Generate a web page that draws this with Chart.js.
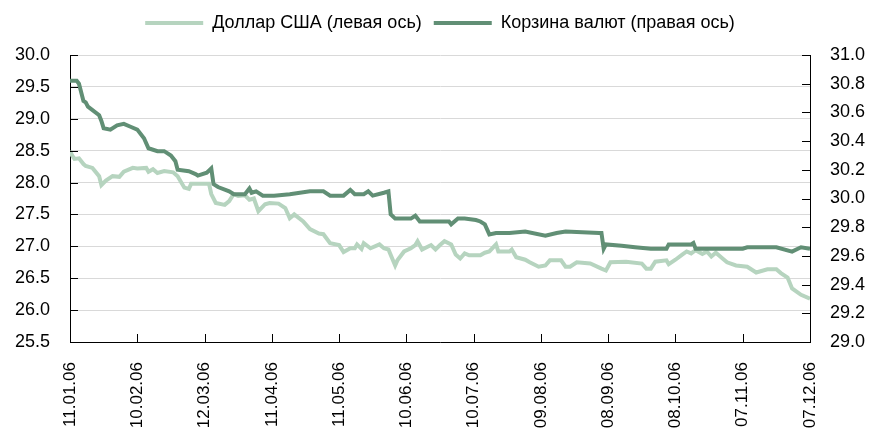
<!DOCTYPE html>
<html>
<head>
<meta charset="utf-8">
<script src="https://cdn.jsdelivr.net/npm/chart.js@4.4.1/dist/chart.umd.min.js"></script>
<style>
  html, body { margin: 0; padding: 0; background: #fff; }
  #wrap { width: 880px; height: 430px; }
</style>
</head>
<body>
<div id="wrap"><canvas id="lineChart"></canvas></div>
<script>
// x tick labels, every 30 days starting 11.01.06
const dateLabels = ['11.01.06', '10.02.06', '12.03.06', '11.04.06', '11.05.06', '10.06.06',
    '10.07.06', '09.08.06', '08.09.06', '08.10.06', '07.11.06', '07.12.06'];

// days since 11.01.06 and rate, USD (left axis)
const usdDays = [0, 1, 2, 4, 6, 7, 10, 13, 14, 16, 19, 22, 24, 28, 30, 34, 35, 37, 39, 42,
    46, 48, 51, 53, 54, 62, 63, 65, 69, 71, 73, 75, 78, 80, 82, 84, 87, 89, 93, 96,
    98, 100, 104, 107, 111, 113, 116, 120, 122, 125, 127, 128, 130, 131, 134, 138, 140, 142, 145, 146,
    149, 152, 154, 155, 157, 161, 163, 165, 167, 170, 172, 174, 176, 178, 183, 185, 187, 190, 191, 196,
    197, 199, 203, 205, 209, 212, 214, 219, 221, 223, 226, 232, 237, 239, 241, 248, 255, 257, 259, 261,
    266, 267, 270, 273, 275, 277, 279, 282, 284, 286, 288, 291, 293, 297, 302, 306, 311, 315, 317, 320,
    322, 326, 330];
const usdRates = [28.50, 28.42, 28.37, 28.38, 28.29, 28.26, 28.23, 28.10, 27.96, 28.03, 28.10, 28.09, 28.17, 28.23, 28.22, 28.23, 28.17, 28.21, 28.15, 28.18,
    28.16, 28.10, 27.92, 27.90, 27.98, 27.98, 27.82, 27.68, 27.65, 27.71, 27.82, 27.79, 27.80, 27.73, 27.75, 27.55, 27.66, 27.68, 27.67, 27.60,
    27.44, 27.50, 27.39, 27.27, 27.20, 27.19, 27.05, 27.02, 26.91, 26.97, 26.97, 27.03, 26.96, 27.05, 26.97, 27.03, 26.97, 26.95, 26.70, 26.78,
    26.92, 26.97, 27.02, 27.08, 26.95, 27.02, 26.95, 27.02, 27.08, 27.03, 26.87, 26.81, 26.89, 26.86, 26.86, 26.90, 26.92, 27.03, 26.92, 26.92,
    26.95, 26.83, 26.79, 26.75, 26.68, 26.70, 26.78, 26.78, 26.68, 26.68, 26.75, 26.73, 26.65, 26.62, 26.75, 26.76, 26.73, 26.65, 26.65, 26.76,
    26.78, 26.72, 26.79, 26.87, 26.92, 26.89, 26.94, 26.88, 26.92, 26.84, 26.90, 26.81, 26.75, 26.70, 26.68, 26.59, 26.64, 26.64, 26.58, 26.51,
    26.34, 26.24, 26.18];

// days since 11.01.06 and value, currency basket (right axis)
const basketDays = [0, 3, 4, 6, 7, 8, 13, 14, 15, 18, 21, 24, 27, 30, 33, 35, 39, 42, 45, 47,
    48, 53, 56, 57, 61, 63, 64, 66, 71, 73, 78, 80, 81, 83, 86, 91, 98, 107, 113, 116,
    122, 125, 127, 131, 133, 135, 140, 142, 143, 145, 152, 154, 156, 169, 170, 173, 176, 181, 183, 185,
    187, 190, 196, 203, 212, 217, 221, 236, 237, 238, 239, 246, 252, 259, 266, 267, 277, 278, 279, 300,
    302, 315, 322, 326, 330];
const basketRates = [30.82, 30.82, 30.80, 30.68, 30.67, 30.64, 30.58, 30.54, 30.49, 30.48, 30.51, 30.52, 30.50, 30.48, 30.42, 30.35, 30.33, 30.33, 30.30, 30.26,
    30.20, 30.19, 30.17, 30.16, 30.18, 30.21, 30.10, 30.08, 30.05, 30.03, 30.03, 30.07, 30.04, 30.05, 30.02, 30.02, 30.03, 30.05, 30.05, 30.02,
    30.02, 30.06, 30.03, 30.03, 30.05, 30.02, 30.04, 30.05, 29.89, 29.86, 29.86, 29.88, 29.84, 29.84, 29.82, 29.86, 29.86, 29.85, 29.84, 29.82,
    29.75, 29.76, 29.76, 29.77, 29.74, 29.76, 29.77, 29.76, 29.76, 29.65, 29.68, 29.67, 29.66, 29.65, 29.65, 29.68, 29.68, 29.69, 29.65, 29.65,
    29.66, 29.66, 29.63, 29.66, 29.65];

const toPoints = (days, vals) => days.map((d, i) => ({ x: d, y: vals[i] }));

Chart.defaults.font.family = "'Liberation Sans', Arial, sans-serif";
Chart.defaults.font.size = 18;
Chart.defaults.color = '#000';

// ticks in this chart point into the plot, so draw them by hand
const innerTicks = {
    id: 'innerTicks',
    afterDraw(chart) {
        const ctx = chart.ctx;
        const area = chart.chartArea;
        const len = 8;
        ctx.save();
        ctx.strokeStyle = '#000';
        ctx.lineWidth = 1;
        ctx.beginPath();
        chart.scales.x.ticks.forEach((t, i) => {
            const px = Math.round(chart.scales.x.getPixelForTick(i)) + 0.5;
            ctx.moveTo(px, area.bottom);
            ctx.lineTo(px, area.bottom - len);
        });
        chart.scales.y.ticks.forEach((t, i) => {
            const py = Math.round(chart.scales.y.getPixelForTick(i)) + 0.5;
            ctx.moveTo(area.left, py);
            ctx.lineTo(area.left + len, py);
        });
        chart.scales.y1.ticks.forEach((t, i) => {
            const py = Math.round(chart.scales.y1.getPixelForTick(i)) + 0.5;
            ctx.moveTo(area.right, py);
            ctx.lineTo(area.right - len, py);
        });
        ctx.stroke();
        ctx.restore();
    }
};

// extra room between the legend and the plot
const legendGap = {
    id: 'legendGap',
    beforeInit(chart) {
        const fit = chart.legend.fit;
        chart.legend.fit = function () {
            fit.bind(chart.legend)();
            this.height += 13;
        };
    }
};

const ctx = document.getElementById('lineChart').getContext('2d');
const lineChart = new Chart(ctx, {
    type: 'line',
    data: {
        datasets: [{
            label: 'Доллар США (левая ось)',
            data: toPoints(usdDays, usdRates),
            yAxisID: 'y',
            borderColor: 'rgb(182, 212, 191)',
            backgroundColor: 'rgb(182, 212, 191)',
            borderWidth: 4,
            pointRadius: 0,
            tension: 0,
            order: 2
        }, {
            label: 'Корзина валют (правая ось)',
            data: toPoints(basketDays, basketRates),
            yAxisID: 'y1',
            borderColor: 'rgb(97, 143, 117)',
            backgroundColor: 'rgb(97, 143, 117)',
            borderWidth: 4,
            pointRadius: 0,
            tension: 0,
            order: 1
        }]
    },
    options: {
        animation: false,
        responsive: true,
        maintainAspectRatio: false,
        layout: { padding: { top: 2 } },
        plugins: {
            tooltip: { enabled: false },
            legend: {
                position: 'top',
                labels: {
                    usePointStyle: true,
                    pointStyle: 'line',
                    pointStyleWidth: 58,
                    font: { size: 18 },
                    padding: 12,
                    sort: (a, b) => a.datasetIndex - b.datasetIndex
                }
            }
        },
        scales: {
            x: {
                type: 'linear',
                min: 0,
                max: 330,
                grid: { display: false, drawTicks: false },
                border: { color: '#000', width: 1 },
                ticks: {
                    stepSize: 30,
                    autoSkip: false,
                    minRotation: 90,
                    maxRotation: 90,
                    padding: 20,
                    font: { size: 17 },
                    callback: (v, i) => dateLabels[i]
                },
                afterFit: (s) => { s.height = 88; }
            },
            y: {
                position: 'left',
                min: 25.5,
                max: 30,
                grid: { color: '#d9d9d9', drawTicks: false },
                border: { color: '#000', width: 1 },
                ticks: {
                    stepSize: 0.5,
                    padding: 20,
                    callback: (v) => v.toFixed(1)
                },
                afterFit: (s) => { s.width = 70; }
            },
            y1: {
                position: 'right',
                min: 29,
                max: 31,
                grid: { display: false, drawTicks: false },
                border: { color: '#000', width: 1 },
                ticks: {
                    stepSize: 0.2,
                    padding: 20,
                    callback: (v) => v.toFixed(1)
                },
                afterFit: (s) => { s.width = 70; }
            }
        }
    },
    plugins: [innerTicks, legendGap]
});
</script>
</body>
</html>
